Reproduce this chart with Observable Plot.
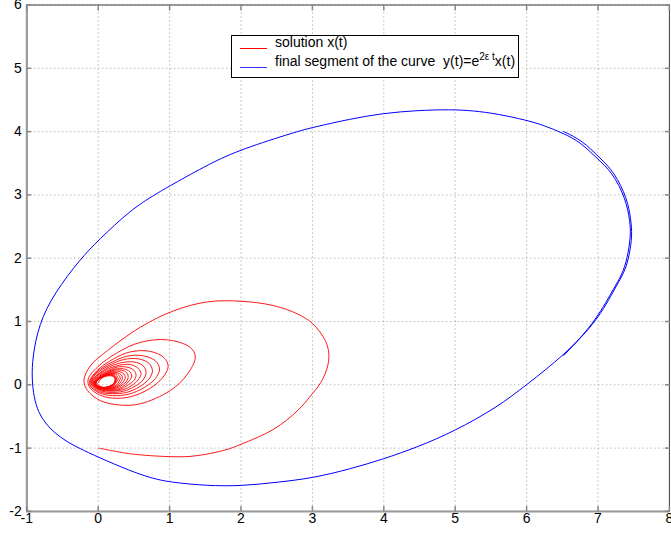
<!DOCTYPE html>
<html>
<head>
<meta charset="utf-8">
<script src="https://cdn.jsdelivr.net/npm/d3@7"></script>
<script src="https://cdn.jsdelivr.net/npm/@observablehq/plot@0.6"></script>
<style>
  body { margin: 0; background: white; }
  #wrap { position: relative; width: 671px; height: 535px; }
  #legend {
    position: absolute; left: 231px; top: 35px; width: 288px; height: 43px;
    border: 1px solid #000; background: #fff; box-sizing: border-box;
    font-family: Arial, "Liberation Sans", sans-serif; font-size: 14px; color: #000;
  }
  #legend .sw { position: absolute; left: 8px; width: 27px; height: 1px; }
  #legend .lb { position: absolute; left: 43px; white-space: pre; line-height: 15px; }
  #legend sup { font-size: 10px; vertical-align: 0; position: relative; top: -6px; }
</style>
</head>
<body>
<div id="wrap"></div>
<script>
const xTicks = [-1, 0, 1, 2, 3, 4, 5, 6, 7, 8];
const yTicks = [-2, -1, 0, 1, 2, 3, 4, 5, 6];
const seriesNames = ["solution x(t)", "final segment of the curve  y(t)=e", "2\u03b5 t", "x(t)"];
const seriesColors = ["#ff0000", "#3333ff"];

// solution x(t): decaying spiral
const solution = [
  [0.01,-1.0],[0.45,-1.09],[1.01,-1.135],[1.30,-1.13],[1.57,-1.085],[1.81,-1.02],[2.0,-0.94],[2.46,-0.70],[2.79,-0.41],[3.0,-0.14],[3.12,0.04],[3.21,0.28],[3.23,0.49],[3.18,0.70],[3.0,0.97],[2.79,1.12],[2.46,1.25],[2.0,1.32],[1.53,1.31],[1.06,1.17],[0.59,0.91],[0.13,0.54],[-0.11,0.30],[-0.20,0.07],
  [-0.15,-0.09],[0.03,-0.25],[0.31,-0.32],[0.59,-0.30],[1.01,-0.09],[1.25,0.17],[1.36,0.44],[1.29,0.59],[0.97,0.71],[0.59,0.67],[0.27,0.51],[-0.01,0.28],[-0.14,0.09],
  [-0.12,-0.04],[0.02,-0.16],[0.2,-0.21],[0.45,-0.19],[0.72,-0.06],[0.90,0.11],[0.98,0.29],[0.92,0.43],[0.72,0.53],[0.45,0.52],[0.20,0.40],[-0.02,0.22],[-0.12,0.06],
  [-0.11,-0.02],[0.02,-0.13],[0.2,-0.17],[0.42,-0.15],[0.65,-0.04],[0.80,0.10],[0.86,0.25],[0.80,0.38],[0.62,0.46],[0.40,0.45],[0.18,0.35],[-0.03,0.19],[-0.11,0.05],
  [-0.10,-0.01],[0.02,-0.11],[0.2,-0.14],[0.40,-0.12],[0.58,-0.03],[0.71,0.09],[0.76,0.22],[0.71,0.34],[0.56,0.41],[0.36,0.40],[0.16,0.31],[-0.03,0.17],[-0.10,0.05],
  [-0.09,0.0],[0.02,-0.09],[0.18,-0.12],[0.36,-0.10],[0.52,-0.02],[0.63,0.08],[0.67,0.19],[0.63,0.30],[0.50,0.36],[0.33,0.35],[0.15,0.28],[-0.02,0.15],[-0.09,0.05],
  [-0.08,0.0],[0.03,-0.08],[0.18,-0.10],[0.34,-0.08],[0.47,-0.01],[0.56,0.08],[0.60,0.17],[0.56,0.26],[0.45,0.32],[0.30,0.31],[0.14,0.25],[-0.02,0.14],[-0.08,0.05],
  [-0.07,0.0],[0.03,-0.07],[0.17,-0.09],[0.31,-0.07],[0.42,0.0],[0.50,0.07],[0.53,0.15],[0.50,0.23],[0.40,0.28],[0.27,0.28],[0.13,0.22],[-0.01,0.13],[-0.07,0.04],
  [-0.06,0.0],[0.03,-0.06],[0.16,-0.08],[0.29,-0.06],[0.38,0.0],[0.44,0.07],[0.47,0.14],[0.44,0.21],[0.36,0.25],[0.24,0.25],[0.12,0.20],[0.0,0.12],[-0.06,0.04],
  [-0.055,0.0],[0.03,-0.055],[0.15,-0.07],[0.26,-0.05],[0.34,0.0],[0.40,0.06],[0.42,0.13],[0.40,0.19],[0.33,0.23],[0.22,0.23],[0.11,0.18],[0.0,0.11],[-0.055,0.04],
  [-0.05,0.0],[0.03,-0.05],[0.14,-0.065],[0.24,-0.045],[0.31,0.0],[0.36,0.06],[0.38,0.12],[0.36,0.17],[0.30,0.21],[0.20,0.21],[0.10,0.17],[0.0,0.10],[-0.05,0.04],
  [-0.045,0.0],[0.03,-0.05],[0.13,-0.06],[0.22,-0.04],[0.28,0.0],[0.32,0.05],[0.34,0.11],[0.32,0.16],[0.27,0.19],[0.18,0.19],[0.09,0.16],[0.0,0.10],[-0.045,0.04],
  [-0.04,0.0],[0.03,-0.045],[0.12,-0.055],[0.20,-0.035],[0.26,0.0],[0.29,0.05],[0.31,0.10],[0.29,0.15],[0.24,0.18],[0.17,0.18],[0.09,0.15],[0.0,0.09],[-0.04,0.04],
  [-0.035,0.0],[0.03,-0.04],[0.11,-0.05],[0.18,-0.03],[0.23,0.0],[0.26,0.05],[0.28,0.10],[0.26,0.14],[0.22,0.17],[0.15,0.17],[0.08,0.14],[0.0,0.09],[-0.035,0.04],
  [-0.03,0.0],[0.03,-0.04],[0.10,-0.045],[0.17,-0.03],[0.22,0.0],[0.245,0.045],[0.26,0.09],[0.245,0.13],[0.21,0.16],[0.14,0.16],[0.08,0.135],[0.0,0.085],[-0.03,0.04],
  [-0.03,0.0],[0.03,-0.035],[0.10,-0.045],[0.16,-0.025],[0.21,0.0],[0.235,0.045],[0.245,0.09],[0.235,0.125],[0.20,0.155],[0.14,0.155],[0.07,0.13],[0.0,0.08],[-0.03,0.04],
  [-0.025,0.0],[0.03,-0.035],[0.095,-0.04],[0.155,-0.025],[0.20,0.0],[0.225,0.04],[0.235,0.085],[0.225,0.12],[0.195,0.15],[0.135,0.15],[0.07,0.125],[0.0,0.08],[-0.025,0.035],
  [0.0,0.0],[0.05,-0.035],[0.10,-0.04],[0.16,-0.02],[0.21,0.01],[0.235,0.05],[0.24,0.09],[0.225,0.12],[0.19,0.14],[0.13,0.14],[0.07,0.12],[0.02,0.07],[0.0,0.03]
];

// final segment of the curve y(t) = e^{2 eps t} x(t)
const finalSegment = [
  [6.52,0.463],[6.94,0.96],[7.22,1.52],[7.34,1.75],[7.41,1.99],[7.46,2.36],[7.45,2.57],[7.39,2.94],[7.2,3.36],[6.99,3.57],[6.76,3.83],[6.52,3.97],[6.24,4.10],[6.0,4.18],[5.59,4.28],[5.26,4.33],[4.93,4.35],[4.47,4.335],[3.99,4.29],[3.53,4.20],[3.0,4.065],[2.78,4.0],[2.0,3.72],[1.57,3.50],[1.0,3.14],[0.80,3.01],[0.45,2.76],[0.0,2.28],[-0.25,1.99],[-0.62,1.44],[-0.83,0.96],[-0.92,0.44],[-0.93,0.10],[-0.90,-0.20],[-0.84,-0.43],[-0.74,-0.61],[-0.61,-0.76],[-0.45,-0.89],[-0.29,-0.99],[0.01,-1.15],[0.45,-1.36],[0.73,-1.47],[1.0,-1.54],[1.53,-1.595],[2.0,-1.60],[2.51,-1.54],[3.0,-1.475],[3.53,-1.33],[3.99,-1.175],[4.47,-0.985],[4.99,-0.733],[5.59,-0.354],[6.0,0.0],[6.52,0.463],[6.99,1.005],[7.25,1.55],[7.38,1.80],[7.44,2.05],[7.48,2.36],[7.46,2.62],[7.41,2.94],[7.23,3.36],[7.02,3.59],[6.78,3.86],[6.52,4.0]
];

const fmt = d => String(d);
const chart = Plot.plot({
  width: 671, height: 535,
  marginLeft: 26.3, marginRight: 2.1, marginTop: 4.5, marginBottom: 24.1,
  x: {domain: [-1, 8]},
  y: {domain: [-2, 6]},
  style: {fontFamily: "Arial, 'Liberation Sans', sans-serif", fontSize: "14px", color: "#000", background: "#fff"},
  marks: [
    Plot.gridX(xTicks, {stroke: "#999", strokeOpacity: 1, strokeDasharray: "1,3"}),
    Plot.gridY(yTicks, {stroke: "#999", strokeOpacity: 1, strokeDasharray: "1,3"}),
    Plot.line(finalSegment, {x: d => d[0], y: d => d[1], stroke: "#0000ff", strokeWidth: 1, curve: "basis"}),
    Plot.line(solution, {x: d => d[0], y: d => d[1], stroke: seriesColors[0], strokeWidth: 0.9, curve: "catmull-rom"}),
    Plot.frame({stroke: "#404040"}),
    Plot.ruleX([-1], {stroke: "#999", strokeWidth: 2}),
    Plot.ruleY([-2], {stroke: "#999", strokeWidth: 2}),
    Plot.axisX(xTicks, {anchor: "bottom", tickSize: -5, text: null, stroke: "#888", strokeWidth: 1.5}),
    Plot.axisX(xTicks, {anchor: "top", tickSize: -5, text: null, stroke: "#888", strokeWidth: 1.5}),
    Plot.axisY(yTicks, {anchor: "left", tickSize: -5, text: null, stroke: "#888", strokeWidth: 1.5}),
    Plot.axisY(yTicks, {anchor: "right", tickSize: -5, text: null, stroke: "#888", strokeWidth: 1.5}),
    Plot.axisX(xTicks, {anchor: "bottom", tickSize: 0, tickPadding: 2, tickFormat: fmt, label: null}),
    Plot.axisY(yTicks, {anchor: "left", tickSize: 0, tickPadding: 5, tickFormat: fmt, label: null})
  ]
});
const wrap = document.getElementById("wrap");
wrap.appendChild(chart);

const legend = document.createElement("div");
legend.id = "legend";
legend.innerHTML =
  `<div class="sw" style="top:12px;background:${seriesColors[0]}"></div>` +
  `<div class="lb" style="top:-1px">${seriesNames[0]}</div>` +
  `<div class="sw" style="top:31px;background:${seriesColors[1]}"></div>` +
  `<div class="lb" style="top:18px">${seriesNames[1]}<sup>${seriesNames[2]}</sup>${seriesNames[3]}</div>`;
wrap.appendChild(legend);
</script>
</body>
</html>
